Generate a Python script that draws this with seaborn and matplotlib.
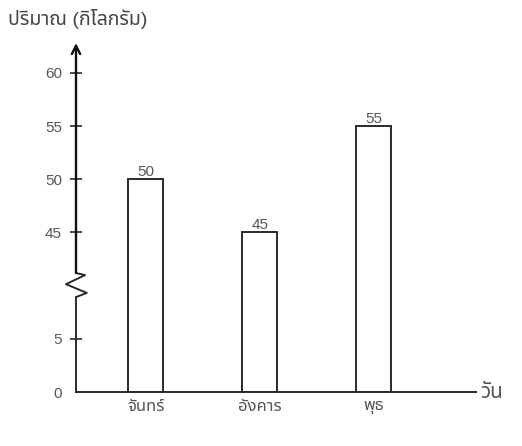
import numpy as np
import pandas as pd
import seaborn as sns
import matplotlib
matplotlib.use("Agg")
import matplotlib.pyplot as plt
from matplotlib import font_manager as fm

days = ["จันทร์", "อังคาร", "พุธ"]
amounts = [50, 45, 55]
yticks = [0, 5, 45, 50, 55, 60]
ylabel = "ปริมาณ (กิโลกรัม)"
xlabel = "วัน"


def find_thai_font():
    try:
        from fontTools.ttLib import TTFont
    except ImportError:
        return None
    found = []
    for f in fm.fontManager.ttflist:
        try:
            tt = TTFont(f.fname, fontNumber=0, lazy=True)
            cmap = tt.getBestCmap() or {}
            if 0x0E1B in cmap and 0x0E31 in cmap:
                found.append(f.name)
        except Exception:
            pass
    for pref in ["Noto Sans Thai", "Noto Sans Thai Looped", "Loma", "Garuda", "Kinnari"]:
        if pref in found:
            return pref
    return found[0] if found else None


# broken axis: 5..45 squeezed into 10 units
def fwd(v):
    v = np.asarray(v, dtype=float)
    return np.where(v <= 5, v, np.where(v < 45, 5 + (v - 5) * 0.25, v - 30))


def inv(m):
    m = np.asarray(m, dtype=float)
    return np.where(m <= 5, m, np.where(m < 15, 5 + (m - 5) * 4, m + 30))


sns.set_theme(style="white")
thai = find_thai_font()
plt.rcParams["font.family"] = ["Liberation Sans"] + ([thai] if thai else []) + ["DejaVu Sans"]
plt.rcParams["font.weight"] = "light"

df = pd.DataFrame({"day": days, "amount": amounts})

line_c = "#2a2a2a"
text_c = "#555555"

fig = plt.figure(figsize=(5.22, 4.46), dpi=100)
ax = fig.add_axes([0.1456, 0.121, 0.766, 0.7825])
ax.set_yscale("function", functions=(fwd, inv))

sns.barplot(data=df, x="day", y="amount", color="white", edgecolor=line_c,
            linewidth=1.4, width=0.307, ax=ax, saturation=1)
ax.bar_label(ax.containers[0], labels=[str(a) for a in amounts],
             color=text_c, fontsize=11, padding=0)

ax.set_xlim(-0.614, 2.895)
ax.set_ylim(0, 62.8)
ax.set_yticks(yticks)
ax.set_yticklabels([str(t) for t in yticks])
ax.tick_params(axis="y", direction="inout", length=8, width=1.2, color=line_c,
               labelsize=11, labelcolor=text_c, pad=6, left=True)
ax.tick_params(axis="x", length=0, labelsize=12, labelcolor=text_c, pad=5)
ax.yaxis.get_major_ticks()[0].tick1line.set_visible(False)
ax.set_xlabel("")
ax.set_ylabel("")

for s in ["top", "right", "left"]:
    ax.spines[s].set_visible(False)
ax.spines["bottom"].set_color(line_c)
ax.spines["bottom"].set_linewidth(1.4)

# y axis drawn by hand with the break and arrow
ax.plot([0, 0], [0, 0.272], color=line_c, lw=1.4, transform=ax.transAxes, clip_on=False)
ax.plot([0, 0.0225, -0.025, 0.027, 0], [0.341, 0.335, 0.309, 0.284, 0.272],
        color=line_c, lw=1.4, transform=ax.transAxes, clip_on=False)
ax.annotate("", xy=(0, 1.0), xytext=(0, 0.341), xycoords="axes fraction",
            arrowprops=dict(arrowstyle="->,head_length=0.5,head_width=0.25",
                            color="#111111", lw=1.7, shrinkA=0, shrinkB=0))

ax.text(1.01, 0.0, xlabel, transform=ax.transAxes, ha="left", va="center",
        fontsize=15, color=text_c)
fig.text(8 / 522, 1 - 19 / 446, ylabel, ha="left", va="center",
         fontsize=14, color="#444444")

fig.savefig("out.png", dpi=100, facecolor="white")
